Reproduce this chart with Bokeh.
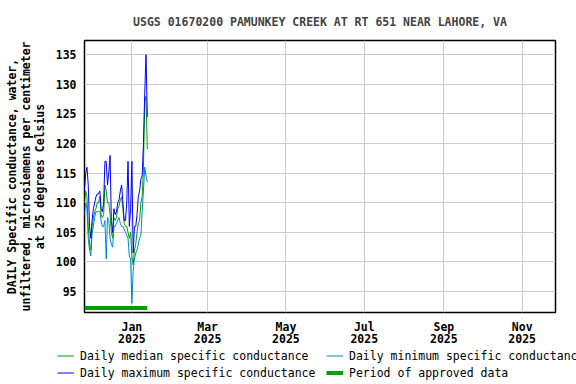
import pandas as pd
from bokeh.plotting import figure
from bokeh.layouts import column
from bokeh.models import Range1d, FixedTicker, Legend, LegendItem
from bokeh.embed import file_html
from bokeh.resources import INLINE

# ---- data ----
start_date = "2024-11-25"
max_vals = [112, 115, 116, 113, 106, 104, 107, 109, 110, 111,
            111.5, 111.5, 112, 109, 108.5, 110, 117, 117, 113, 115,
            118, 107, 105, 109, 108, 108.5, 110, 110.5, 112, 113,
            110, 107, 107, 110, 117, 106, 109, 117, 101.5, 106,
            106, 108, 111, 112, 114, 114.5, 120, 128.5, 135, 124.5]
med_vals = [110, 112, 111, 106, 103, 102, 106, 107.5, 108.5, 109,
            110, 110, 111, 108, 107.5, 108, 113, 112, 110, 110,
            108, 105, 104, 107.5, 107, 107.5, 109, 109.5, 110.5, 111,
            109, 106.5, 106, 106, 105, 104, 105, 101, 99.5, 102,
            103, 105, 106.5, 107, 110, 111, 116, 127, 128, 119]
min_vals = [108, 110, 109, 104, 102, 101, 105, 106, 107.5, 108.5,
            108.5, 108.5, 108.5, 107, 106, 106, 107, 100.5, 107.5, 107,
            104, 103, 102.5, 106, 106, 106.5, 107, 107.5, 106.5, 106,
            106, 105.5, 105, 104.5, 104, 101, 100.5, 93, 98.5, 100.5,
            101.5, 102, 103, 104, 104.5, 108.5, 112, 116, 114.5, 113.5]
approved_period = ["2024-11-25", "2025-01-13"]
x_tick_dates = ["2025-01-01", "2025-03-01", "2025-05-01", "2025-07-01", "2025-09-01", "2025-11-01"]
x_tick_labels = ["Jan\n2025", "Mar\n2025", "May\n2025", "Jul\n2025", "Sep\n2025", "Nov\n2025"]
y_ticks = [95, 100, 105, 110, 115, 120, 125, 130, 135]

title_text = "USGS 01670200 PAMUNKEY CREEK AT RT 651 NEAR LAHORE, VA"
y_label = "DAILY Specific conductance, water,\nunfiltered, microsiemens per centimeter\nat 25 degrees Celsius"
legend_labels = ["Daily median specific conductance", "Daily minimum specific conductance",
                 "Daily maximum specific conductance", "Period of approved data"]

# ---- styling ----
FONT = "DejaVu Sans Mono"
FS = "11.5px"
C_MED = "#00a000"
C_MIN = "#0088d0"
C_MAX = "#0000ff"
C_APP = "#00a000"
GRID = "#cccccc"

dates = pd.date_range(start_date, periods=len(max_vals), freq="D")
app_dates = pd.to_datetime(approved_period)

def ms(d):
    return int(pd.Timestamp(d).value // 10**6)

x_start = pd.Timestamp("2024-11-25 02:00")
x_end = pd.Timestamp("2025-11-26 23:00")

p = figure(width=576, height=348, x_axis_type="datetime",
           output_backend="svg", toolbar_location=None,
           x_range=Range1d(x_start, x_end), y_range=Range1d(91.46, 137.41),
           min_border_left=84, min_border_right=21,
           min_border_top=40, min_border_bottom=36)
p.frame_align = False

p.background_fill_color = "white"
p.border_fill_color = "white"
p.outline_line_color = "black"
p.outline_line_width = 1.5

# title
p.title.text = title_text
p.title.align = "center"
p.title.text_font = FONT
p.title.text_font_size = FS
p.title.text_font_style = "bold"
p.title.standoff = 24

# axes
xt = [ms(d) for d in x_tick_dates]
p.xaxis.ticker = FixedTicker(ticks=xt)
p.xaxis.major_label_overrides = {t: lab for t, lab in zip(xt, x_tick_labels)}
p.yaxis.ticker = FixedTicker(ticks=y_ticks)
for ax in (p.xaxis, p.yaxis):
    ax.major_tick_line_color = None
    ax.minor_tick_line_color = None
    ax.major_tick_out = 0
    ax.major_tick_in = 0
    ax.minor_tick_out = 0
    ax.axis_line_color = None
    ax.major_label_text_font = FONT
    ax.major_label_text_font_size = FS
    ax.major_label_text_font_style = "bold"
    ax.major_label_text_color = "black"
p.xaxis.major_label_standoff = 7
p.xaxis.major_label_text_line_height = 0.87
p.yaxis.major_label_standoff = 8
p.yaxis.axis_label = y_label
p.yaxis.axis_label_text_font = FONT
p.yaxis.axis_label_text_font_size = FS
p.yaxis.axis_label_text_font_style = "bold"
p.yaxis.axis_label_text_color = "black"
p.yaxis.axis_label_text_line_height = 0.98
p.yaxis.axis_label_standoff = 6

p.xgrid.grid_line_color = GRID
p.ygrid.grid_line_color = GRID
p.xgrid.grid_line_width = 1
p.ygrid.grid_line_width = 1

# data
r_min = p.line(dates, min_vals, line_color=C_MIN, line_width=1)
r_med = p.line(dates, med_vals, line_color=C_MED, line_width=1)
r_max = p.line(dates, max_vals, line_color=C_MAX, line_width=1)
approved_y = 92.2
r_app = p.line(app_dates, [approved_y] * len(app_dates), line_color=C_APP, line_width=4)

# ---- legend strip (separate figure below the chart) ----
lf = figure(width=576, height=36, output_backend="svg", toolbar_location=None,
            x_range=Range1d(0, 1), y_range=Range1d(0, 1),
            x_axis_location=None, y_axis_location=None, min_border=0)
lf.frame_align = False
lf.grid.visible = False
lf.outline_line_color = None
lf.background_fill_color = "white"
lf.border_fill_color = "white"
# legend-only renderers drawn out of view
k_med = lf.line([5, 6], [5, 6], line_color=C_MED, line_width=1)
k_min = lf.line([5, 6], [5, 6], line_color=C_MIN, line_width=1)
k_max = lf.line([5, 6], [5, 6], line_color=C_MAX, line_width=1)
k_app = lf.line([5, 6], [5, 6], line_color=C_APP, line_width=4)

def make_legend(items, loc):
    lg = Legend(items=items, orientation="horizontal", location=loc)
    lg.label_text_font = FONT
    lg.label_text_font_size = FS
    lg.label_text_color = "black"
    lg.glyph_width = 17
    lg.glyph_height = 15
    lg.label_height = 15
    lg.label_width = 237
    lg.label_standoff = 6
    lg.spacing = 9
    lg.padding = 0
    lg.margin = 0
    lg.border_line_color = None
    lg.background_fill_alpha = 0
    return lg

legend1 = make_legend([
    LegendItem(label=legend_labels[0], renderers=[k_med]),
    LegendItem(label=legend_labels[1], renderers=[k_min]),
], (57, 21))
legend2 = make_legend([
    LegendItem(label=legend_labels[2], renderers=[k_max]),
    LegendItem(label=legend_labels[3], renderers=[k_app]),
], (57, 4))
lf.add_layout(legend1, "center")
lf.add_layout(legend2, "center")

layout = column(p, lf, spacing=0)
open("out.html", "w").write(file_html(layout, INLINE))
